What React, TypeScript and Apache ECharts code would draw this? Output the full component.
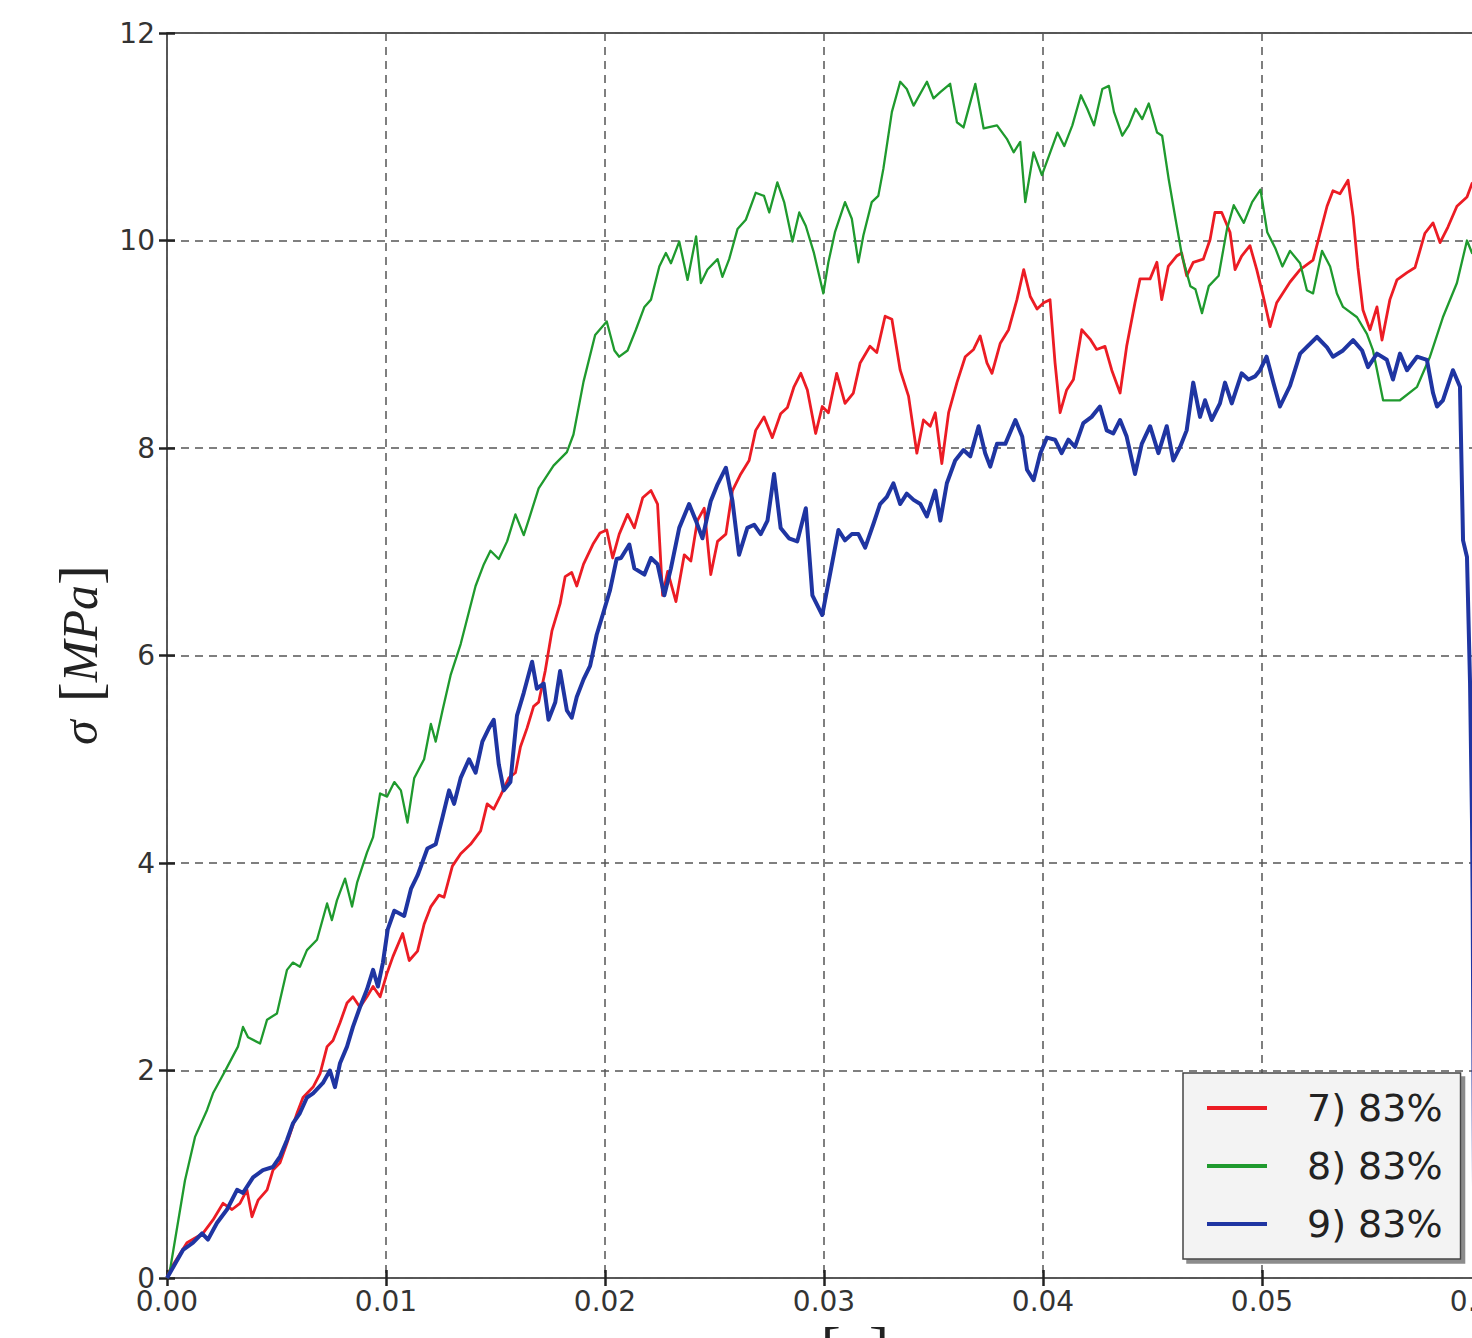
import React, { useEffect, useRef } from "react";
import * as echarts from "echarts";

const seriesNames = ["7) 83%", "8) 83%", "9) 83%"];
const seriesColors = ["#ec1c24", "#1f9a2e", "#1f35a2"];

const xMin = 0;
const xMax = 0.06;
const xStep = 0.01;
const yMin = 0;
const yMax = 12;
const yStep = 2;

// [strain, stress MPa]
const redData: [number, number][] = [
  [0, 0], [0.00014, 0.08], [0.00091, 0.34], [0.00164, 0.43], [0.0021, 0.56], [0.00256, 0.72], [0.00297, 0.66],
  [0.00333, 0.72], [0.00365, 0.85], [0.00388, 0.59], [0.00416, 0.75], [0.00457, 0.85], [0.00484, 1.04],
  [0.00516, 1.11], [0.00548, 1.3], [0.00594, 1.59], [0.00621, 1.74], [0.00667, 1.84], [0.00699, 1.97],
  [0.00731, 2.23], [0.00758, 2.29], [0.0079, 2.46], [0.00822, 2.65], [0.00849, 2.71], [0.00881, 2.61],
  [0.00913, 2.71], [0.00941, 2.81], [0.00973, 2.71], [0.01005, 2.94], [0.01032, 3.1], [0.01076, 3.32],
  [0.01106, 3.06], [0.01144, 3.15], [0.01174, 3.41], [0.01205, 3.58], [0.01242, 3.69], [0.01265, 3.67],
  [0.01303, 3.97], [0.01341, 4.09], [0.01386, 4.18], [0.01432, 4.31], [0.01462, 4.57], [0.01492, 4.52],
  [0.01523, 4.65], [0.01561, 4.82], [0.01591, 4.87], [0.01614, 5.12], [0.01644, 5.3], [0.01674, 5.51],
  [0.01697, 5.55], [0.01727, 5.85], [0.01758, 6.24], [0.01795, 6.5], [0.01818, 6.76], [0.01848, 6.8],
  [0.01871, 6.67], [0.01902, 6.88], [0.01947, 7.08], [0.01977, 7.18], [0.02008, 7.21], [0.02035, 6.94],
  [0.02065, 7.17], [0.02103, 7.36], [0.02134, 7.23], [0.02172, 7.52], [0.0221, 7.59], [0.0224, 7.46],
  [0.02263, 6.58], [0.02286, 6.81], [0.02324, 6.52], [0.02362, 6.97], [0.02392, 6.91], [0.02422, 7.3],
  [0.02453, 7.42], [0.02483, 6.78], [0.02514, 7.1], [0.02552, 7.17], [0.02582, 7.59], [0.0262, 7.75],
  [0.02658, 7.88], [0.02688, 8.17], [0.02726, 8.3], [0.02764, 8.1], [0.02802, 8.33], [0.02833, 8.39],
  [0.02863, 8.59], [0.02894, 8.72], [0.02924, 8.56], [0.02962, 8.14], [0.02992, 8.4], [0.0302, 8.34],
  [0.03058, 8.72], [0.03096, 8.43], [0.03134, 8.53], [0.03165, 8.82], [0.0321, 8.98], [0.03241, 8.92],
  [0.03279, 9.27], [0.0331, 9.24], [0.03348, 8.75], [0.03386, 8.5], [0.03424, 7.95], [0.03454, 8.27],
  [0.03485, 8.21], [0.03508, 8.34], [0.03538, 7.85], [0.03569, 8.34], [0.03607, 8.63], [0.03645, 8.88],
  [0.03683, 8.95], [0.03713, 9.08], [0.03744, 8.82], [0.03767, 8.72], [0.03805, 9.01], [0.03843, 9.14],
  [0.03881, 9.43], [0.03912, 9.72], [0.03942, 9.46], [0.03973, 9.34], [0.04003, 9.4], [0.04032, 9.43],
  [0.04055, 8.82], [0.04078, 8.34], [0.04108, 8.56], [0.04139, 8.66], [0.04177, 9.14], [0.04215, 9.05],
  [0.04245, 8.95], [0.04283, 8.98], [0.04314, 8.75], [0.04352, 8.53], [0.04382, 8.98], [0.0442, 9.4],
  [0.04443, 9.63], [0.04489, 9.63], [0.0452, 9.79], [0.04542, 9.43], [0.04572, 9.75], [0.0461, 9.85],
  [0.04633, 9.88], [0.04656, 9.66], [0.04686, 9.79], [0.04732, 9.82], [0.04763, 10.01], [0.04785, 10.27],
  [0.04816, 10.27], [0.04854, 10.08], [0.04877, 9.72], [0.04907, 9.85], [0.04945, 9.95], [0.04976, 9.72],
  [0.05006, 9.46], [0.05037, 9.17], [0.05067, 9.4], [0.05128, 9.6], [0.05174, 9.72], [0.05233, 9.81],
  [0.05265, 10.07], [0.05297, 10.33], [0.05324, 10.48], [0.05356, 10.45], [0.05393, 10.58], [0.05416, 10.23],
  [0.05438, 9.74], [0.05461, 9.33], [0.05493, 9.14], [0.05525, 9.36], [0.05548, 9.04], [0.05584, 9.43],
  [0.05616, 9.62], [0.05662, 9.69], [0.05699, 9.74], [0.05744, 10.07], [0.05781, 10.17], [0.05813, 9.98],
  [0.05849, 10.13], [0.0589, 10.33], [0.05936, 10.42], [0.05959, 10.55], [0.06, 10.6],
];

const greenData: [number, number][] = [
  [0, 0], [0.00014, 0.08], [0.00082, 0.94], [0.00128, 1.36], [0.00183, 1.62], [0.0021, 1.78], [0.00251, 1.94],
  [0.00274, 2.03], [0.00324, 2.23], [0.00347, 2.42], [0.0037, 2.32], [0.00425, 2.26], [0.00457, 2.49],
  [0.00502, 2.55], [0.00548, 2.97], [0.00575, 3.04], [0.00607, 3.0], [0.00639, 3.16], [0.00685, 3.26],
  [0.00731, 3.61], [0.00753, 3.45], [0.00776, 3.64], [0.00813, 3.85], [0.00845, 3.58], [0.00868, 3.81],
  [0.00913, 4.1], [0.00941, 4.25], [0.00973, 4.67], [0.01005, 4.64], [0.01038, 4.78], [0.01068, 4.7],
  [0.01098, 4.39], [0.01129, 4.82], [0.01174, 5.0], [0.01205, 5.34], [0.01227, 5.17], [0.01258, 5.47],
  [0.01295, 5.81], [0.01341, 6.11], [0.01409, 6.67], [0.01447, 6.88], [0.01477, 7.01], [0.01515, 6.93],
  [0.01553, 7.1], [0.01591, 7.36], [0.01629, 7.16], [0.01652, 7.31], [0.01697, 7.61], [0.01765, 7.83],
  [0.01826, 7.96], [0.01856, 8.13], [0.01902, 8.64], [0.01955, 9.09], [0.02008, 9.22], [0.02043, 8.94],
  [0.02065, 8.88], [0.02103, 8.94], [0.02141, 9.14], [0.0218, 9.36], [0.0221, 9.43], [0.02248, 9.75],
  [0.02278, 9.88], [0.02301, 9.78], [0.02339, 9.99], [0.02377, 9.62], [0.02416, 10.04], [0.02438, 9.59],
  [0.02468, 9.72], [0.02514, 9.82], [0.02536, 9.65], [0.02567, 9.82], [0.02605, 10.11], [0.02643, 10.2],
  [0.02688, 10.46], [0.02726, 10.43], [0.0275, 10.27], [0.02787, 10.56], [0.02818, 10.37], [0.02856, 9.99],
  [0.02887, 10.27], [0.02917, 10.14], [0.02954, 9.88], [0.02997, 9.49], [0.0302, 9.79], [0.0305, 10.08],
  [0.03096, 10.37], [0.03127, 10.21], [0.03157, 9.79], [0.0318, 10.05], [0.03218, 10.37], [0.03248, 10.43],
  [0.03271, 10.69], [0.0331, 11.24], [0.03348, 11.53], [0.03378, 11.46], [0.03409, 11.3], [0.0347, 11.53],
  [0.035, 11.37], [0.03531, 11.43], [0.03576, 11.51], [0.03607, 11.14], [0.03637, 11.09], [0.03691, 11.51],
  [0.03729, 11.08], [0.0379, 11.11], [0.03835, 10.98], [0.03866, 10.85], [0.03896, 10.95], [0.03919, 10.37],
  [0.03957, 10.85], [0.03995, 10.63], [0.04028, 10.82], [0.04066, 11.04], [0.04097, 10.91], [0.04134, 11.11],
  [0.04173, 11.4], [0.04202, 11.27], [0.04233, 11.11], [0.04271, 11.46], [0.04301, 11.49], [0.04324, 11.24],
  [0.04362, 11.01], [0.04392, 11.11], [0.04423, 11.27], [0.04453, 11.17], [0.04483, 11.32], [0.04521, 11.04],
  [0.04544, 11.01], [0.04574, 10.59], [0.04605, 10.21], [0.04635, 9.85], [0.04673, 9.56], [0.04696, 9.53],
  [0.04726, 9.3], [0.04757, 9.56], [0.04802, 9.66], [0.0484, 10.11], [0.04871, 10.34], [0.04917, 10.17],
  [0.04955, 10.37], [0.04993, 10.49], [0.05024, 10.08], [0.05062, 9.92], [0.05093, 9.75], [0.05128, 9.9],
  [0.05174, 9.78], [0.05205, 9.52], [0.05233, 9.49], [0.05274, 9.9], [0.05311, 9.75], [0.05342, 9.49],
  [0.0537, 9.36], [0.05434, 9.26], [0.05479, 9.1], [0.05507, 8.94], [0.05553, 8.46], [0.0563, 8.46],
  [0.05708, 8.59], [0.05767, 8.88], [0.05826, 9.26], [0.0589, 9.59], [0.05936, 10.0], [0.05959, 9.88],
  [0.06, 9.95],
];

const blueData: [number, number][] = [
  [0, 0], [0.00073, 0.27], [0.00119, 0.34], [0.0016, 0.43], [0.00187, 0.37], [0.00228, 0.53], [0.00274, 0.66],
  [0.0032, 0.85], [0.00347, 0.82], [0.00393, 0.97], [0.00438, 1.04], [0.00484, 1.07], [0.00516, 1.17],
  [0.00548, 1.33], [0.00575, 1.49], [0.00607, 1.59], [0.00639, 1.74], [0.00667, 1.78], [0.00712, 1.88],
  [0.00744, 2.0], [0.00767, 1.84], [0.0079, 2.07], [0.00822, 2.23], [0.00849, 2.42], [0.00881, 2.61],
  [0.00913, 2.78], [0.00941, 2.97], [0.00963, 2.81], [0.00986, 3.04], [0.01008, 3.36], [0.01038, 3.54],
  [0.01083, 3.49], [0.01114, 3.75], [0.01144, 3.88], [0.01189, 4.14], [0.01227, 4.18], [0.01258, 4.44],
  [0.01288, 4.7], [0.01311, 4.57], [0.01341, 4.82], [0.01379, 5.0], [0.01409, 4.87], [0.0144, 5.17],
  [0.0147, 5.3], [0.01492, 5.38], [0.01515, 4.95], [0.01538, 4.7], [0.01568, 4.78], [0.01598, 5.42],
  [0.01629, 5.64], [0.01667, 5.94], [0.01689, 5.68], [0.0172, 5.73], [0.01742, 5.38], [0.01773, 5.55],
  [0.01795, 5.85], [0.01826, 5.47], [0.01848, 5.4], [0.01871, 5.6], [0.01902, 5.77], [0.01932, 5.9],
  [0.01962, 6.2], [0.01992, 6.41], [0.02023, 6.63], [0.02053, 6.93], [0.02073, 6.94], [0.02111, 7.07],
  [0.02134, 6.84], [0.0218, 6.78], [0.0221, 6.94], [0.0224, 6.88], [0.02271, 6.58], [0.02301, 6.84],
  [0.02339, 7.23], [0.02384, 7.46], [0.02415, 7.3], [0.02445, 7.13], [0.02483, 7.49], [0.02514, 7.65],
  [0.02552, 7.81], [0.02582, 7.49], [0.02612, 6.97], [0.0265, 7.23], [0.02681, 7.26], [0.02711, 7.17],
  [0.02742, 7.3], [0.02772, 7.75], [0.02802, 7.23], [0.0284, 7.13], [0.02878, 7.1], [0.02917, 7.42],
  [0.02947, 6.58], [0.02992, 6.39], [0.0303, 6.81], [0.03066, 7.21], [0.03096, 7.11], [0.03127, 7.17],
  [0.03157, 7.17], [0.03188, 7.04], [0.03226, 7.27], [0.03256, 7.46], [0.03287, 7.53], [0.03317, 7.66],
  [0.03348, 7.46], [0.03378, 7.56], [0.03409, 7.5], [0.0344, 7.46], [0.0347, 7.34], [0.03508, 7.59],
  [0.03531, 7.3], [0.03561, 7.66], [0.03599, 7.88], [0.03637, 7.98], [0.03668, 7.92], [0.03706, 8.21],
  [0.03736, 7.95], [0.03759, 7.82], [0.0379, 8.04], [0.03828, 8.04], [0.03874, 8.27], [0.03905, 8.11],
  [0.03927, 7.79], [0.03957, 7.69], [0.03988, 7.95], [0.04018, 8.1], [0.04055, 8.08], [0.04085, 7.95],
  [0.04116, 8.08], [0.04146, 8.01], [0.04184, 8.24], [0.04222, 8.3], [0.0426, 8.4], [0.04291, 8.17],
  [0.04321, 8.14], [0.04352, 8.27], [0.04382, 8.11], [0.0442, 7.75], [0.04451, 8.04], [0.04489, 8.21],
  [0.04527, 7.95], [0.04565, 8.21], [0.04595, 7.88], [0.04626, 8.01], [0.04656, 8.17], [0.04686, 8.63],
  [0.04717, 8.3], [0.0474, 8.46], [0.0477, 8.27], [0.04808, 8.43], [0.04831, 8.63], [0.04862, 8.43],
  [0.04907, 8.72], [0.04938, 8.66], [0.04968, 8.69], [0.04991, 8.75], [0.05021, 8.88], [0.05052, 8.63],
  [0.05082, 8.4], [0.05128, 8.6], [0.05174, 8.91], [0.05251, 9.07], [0.05297, 8.97], [0.05324, 8.88],
  [0.0537, 8.94], [0.05416, 9.04], [0.05457, 8.94], [0.05484, 8.78], [0.05525, 8.91], [0.0557, 8.85],
  [0.05598, 8.66], [0.0563, 8.91], [0.05662, 8.75], [0.05708, 8.88], [0.05753, 8.85], [0.05781, 8.53],
  [0.05799, 8.4], [0.05826, 8.46], [0.05872, 8.75], [0.05904, 8.59], [0.05918, 7.11], [0.05936, 6.95],
  [0.0595, 5.73], [0.05959, 4.39], [0.05962, 3.6], [0.0597, 0],
];

const seriesData = [redData, greenData, blueData];
const seriesWidths = [2.8, 2.3, 4];

export default function App() {
  const ref = useRef<HTMLDivElement>(null);

  useEffect(() => {
    if (!ref.current) return;
    const chart = echarts.init(ref.current, null, { renderer: "svg" });

    const tickStyle = { color: "#222", width: 2.5 };
    const gridLine = { show: true, lineStyle: { type: [8, 6], color: "#555", width: 1.5 } };

    chart.setOption({
      animation: false,
      backgroundColor: "#ffffff",
      textStyle: { fontFamily: "DejaVu Sans" },
      grid: {
        left: 167,
        top: 33,
        width: 1314,
        height: 1245,
        outerBoundsMode: "none",
        containLabel: false,
        show: true,
        borderColor: "#222",
        borderWidth: 1.5,
        backgroundColor: "transparent",
      },
      xAxis: [
        {
          type: "value",
          min: xMin,
          max: xMax,
          interval: xStep,
          axisLine: { show: false },
          axisTick: { show: true, inside: true, length: 8, lineStyle: tickStyle },
          axisLabel: {
            fontSize: 28,
            color: "#333",
            fontFamily: "DejaVu Sans",
            margin: 9,
            formatter: (v: number) => v.toFixed(2),
          },
          splitLine: gridLine,
        },
        {
          type: "value",
          position: "top",
          min: xMin,
          max: xMax,
          interval: xStep,
          axisLine: { show: false },
          axisTick: { show: true, inside: true, length: 8, lineStyle: tickStyle },
          axisLabel: { show: false },
          splitLine: { show: false },
        },
      ],
      yAxis: [
        {
          type: "value",
          min: yMin,
          max: yMax,
          interval: yStep,
          axisLine: { show: false },
          axisTick: { show: true, inside: true, length: 8, lineStyle: tickStyle },
          axisLabel: { fontSize: 28, color: "#333", fontFamily: "DejaVu Sans", margin: 12 },
          splitLine: gridLine,
        },
        {
          type: "value",
          position: "right",
          min: yMin,
          max: yMax,
          interval: yStep,
          axisLine: { show: false },
          axisTick: { show: true, inside: true, length: 8, lineStyle: tickStyle },
          axisLabel: { show: false },
          splitLine: { show: false },
        },
      ],
      legend: {
        data: seriesNames,
        orient: "vertical",
        left: 1183,
        top: 1073,
        icon: "rect",
        itemWidth: 60,
        itemHeight: 4,
        itemGap: 18,
        padding: [15, 18, 15, 24],
        backgroundColor: "#f3f3f3",
        borderColor: "#444",
        borderWidth: 1.5,
        borderRadius: 0,
        shadowColor: "rgba(0,0,0,0.45)",
        shadowOffsetX: 4,
        shadowOffsetY: 4,
        shadowBlur: 0,
        textStyle: {
          fontSize: 38,
          lineHeight: 40,
          fontFamily: "DejaVu Sans",
          color: "#222",
          padding: [0, 0, 0, 35],
        },
      },
      graphic: [
        {
          type: "text",
          x: 80,
          y: 655,
          rotation: Math.PI / 2,
          style: {
            text: "{i|σ}{s|}{b|[}{i|MPa}{b|]}",
            align: "center",
            verticalAlign: "middle",
            fill: "#222",
            rich: {
              i: { fontFamily: "Liberation Serif", fontStyle: "italic", fontSize: 50, fill: "#222" },
              b: { fontFamily: "Liberation Serif", fontSize: 60, fill: "#222" },
              s: { width: 18 },
            },
          },
        },
        {
          type: "text",
          x: 836,
          y: 1318,
          style: {
            text: "{i|ε}{s|}{b|[}{n|−}{b|]}",
            align: "center",
            verticalAlign: "top",
            fill: "#222",
            rich: {
              i: { fontFamily: "Liberation Serif", fontStyle: "italic", fontSize: 50, fill: "#222" },
              b: { fontFamily: "Liberation Serif", fontSize: 60, fill: "#222" },
              n: { fontFamily: "Liberation Serif", fontSize: 50, fill: "#222" },
              s: { width: 18 },
            },
          },
        },
      ],
      series: seriesNames.map((name, i) => ({
        name,
        type: "line",
        xAxisIndex: 0,
        yAxisIndex: 0,
        data: seriesData[i],
        showSymbol: false,
        symbol: "none",
        clip: true,
        z: 2 + i,
        lineStyle: { color: seriesColors[i], width: seriesWidths[i], join: "round" },
        itemStyle: { color: seriesColors[i] },
      })),
    });

    return () => chart.dispose();
  }, []);

  return (
    <div
      ref={ref}
      style={{ position: "fixed", left: 0, top: 0, width: 1472, height: 1338, background: "#fff" }}
    />
  );
}
